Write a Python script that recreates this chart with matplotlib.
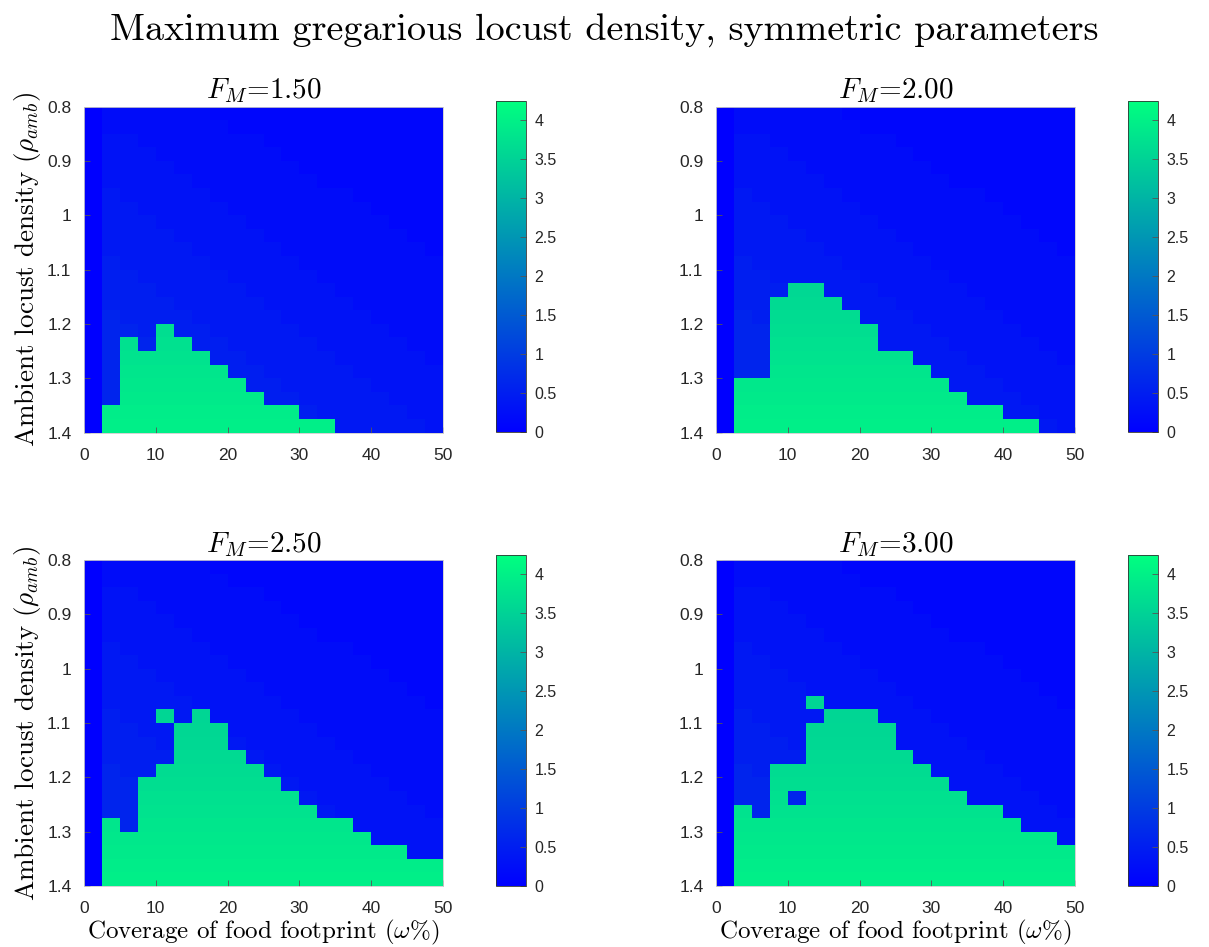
import numpy as np
import matplotlib
matplotlib.use("Agg")
import matplotlib.pyplot as plt

plt.rcParams['mathtext.fontset'] = 'cm'

# ---------------- data ----------------
coverage_ticks = [0, 10, 20, 30, 40, 50]
density_ticks = [0.8, 0.9, 1.0, 1.1, 1.2, 1.3, 1.4]
density_ticklabels = ['0.8', '0.9', '1', '1.1', '1.2', '1.3', '1.4']
cbar_ticks = [0, 0.5, 1, 1.5, 2, 2.5, 3, 3.5, 4]
cbar_ticklabels = ['0', '0.5', '1', '1.5', '2', '2.5', '3', '3.5', '4']

fm_labels = ['1.50', '2.00', '2.50', '3.00']

# number of "swarming" (green) cells counted from the bottom row, per coverage column
heights_150 = [0, 2, 7, 6, 8, 7, 6, 5, 4, 3, 2, 2, 1, 1, 0, 0, 0, 0, 0, 0]
heights_200 = [0, 4, 4, 10, 11, 11, 10, 9, 8, 6, 6, 5, 4, 3, 2, 2, 1, 1, 0, 0]
heights_250 = [0, 5, 4, 8, 9, 12, 13, 12, 10, 9, 8, 7, 6, 5, 5, 4, 3, 3, 2, 2]
heights_300 = [0, 6, 5, 9, 9, 12, 13, 13, 13, 12, 10, 9, 8, 7, 6, 6, 5, 4, 4, 3]

# isolated swarming cells (column, row-from-bottom) and non-swarming holes
islands_150 = []
islands_200 = []
islands_250 = [(4, 12)]
islands_300 = [(5, 13)]
holes_150 = []
holes_200 = []
holes_250 = []
holes_300 = [(4, 6)]

# green level by row (row 0 = bottom, rho = 1.4)
green_by_row = [3.97, 3.94, 3.9, 3.86, 3.82, 3.78, 3.74, 3.7, 3.66, 3.62,
                3.6, 3.58, 3.56, 3.56, 3.56, 3.56, 3.56, 3.56, 3.56, 3.56,
                3.56, 3.56, 3.56, 3.56]

# background (non-swarming) density in tenths, rows top (0.8) to bottom (1.4)
background_tenths = [
    "02222221111111111111",
    "02222222111111111111",
    "03322222221111111111",
    "03332222222111111111",
    "03333222222211111111",
    "03333322222221111111",
    "04333332222222211111",
    "04433333222222221111",
    "04443333322222222111",
    "04444333332222222211",
    "04444433333222222221",
    "05444443333322222222",
    "05544444333332222222",
    "05554444433333222222",
    "05555444443333322222",
    "06555544444333332222",
    "06655554444433333222",
    "06665555444443333322",
    "06666555544444333332",
    "06666655554444433333",
    "06666665555444443333",
    "06666666555544444333",
    "06666666655554444433",
    "06666666665555444443",
]

panels = [
    (fm_labels[0], heights_150, islands_150, holes_150),
    (fm_labels[1], heights_200, islands_200, holes_200),
    (fm_labels[2], heights_250, islands_250, holes_250),
    (fm_labels[3], heights_300, islands_300, holes_300),
]

n_rows = len(background_tenths)
n_cols = len(background_tenths[0])
x_edges = np.linspace(0, 50, n_cols + 1)
y_edges = np.linspace(0.8, 1.4, n_rows + 1)
bg = np.array([[int(ch) / 10.0 for ch in row] for row in background_tenths])


def build(heights, islands, holes):
    z = bg.copy()
    for c, h in enumerate(heights):
        for k in range(h):
            z[n_rows - 1 - k, c] = green_by_row[k]
    for c, k in islands:
        z[n_rows - 1 - k, c] = green_by_row[k]
    for c, k in holes:
        z[n_rows - 1 - k, c] = bg[n_rows - 1 - k, c] + 0.1
    return z


# ---------------- figure ----------------
W, H = 1209, 947
fig = plt.figure(figsize=(W / 100, H / 100), dpi=100)

ax_pos = [(84, 106.5), (716, 106.5), (84, 560), (716, 560)]
cb_pos = [(496, 101), (1128, 101), (496, 555), (1128, 555)]
ax_w, ax_h = 359, 326
cb_w, cb_h = 30, 331

tick_font = dict(family='Liberation Sans', size=12.5)
tick_color = '#262626'
vmax = 4.25

for i, (lab, heights, islands, holes) in enumerate(panels):
    x0, y0 = ax_pos[i]
    ax = fig.add_axes([x0 / W, 1 - (y0 + ax_h) / H, ax_w / W, ax_h / H])
    z = build(heights, islands, holes)
    mesh = ax.pcolormesh(x_edges, y_edges, z, cmap='winter', vmin=0, vmax=vmax,
                         shading='flat')
    ax.set_xlim(0, 50)
    ax.set_ylim(1.4, 0.8)
    ax.set_xticks(coverage_ticks)
    ax.set_xticklabels([str(t) for t in coverage_ticks], fontdict=tick_font, color=tick_color)
    ax.set_yticks(density_ticks)
    ax.set_yticklabels(density_ticklabels, fontdict=tick_font, color=tick_color)
    ax.tick_params(direction='in', length=4, width=0.6, color='#555555')
    ax.tick_params(axis='x', pad=11)
    ax.tick_params(axis='y', pad=9)
    for s in ax.spines.values():
        s.set_color('#cccccc')
        s.set_linewidth(0.6)
    ax.set_title(r'$F_M$=' + lab, fontfamily='cmr10', fontsize=21, pad=6)
    if i % 2 == 0:
        ax.set_ylabel(r'Ambient locust density ($\rho_{amb}$)', fontfamily='cmr10',
                      fontsize=19.5, labelpad=3)
    if i >= 2:
        ax.set_xlabel(r'Coverage of food footprint ($\omega$%)', fontfamily='cmr10',
                      fontsize=18, labelpad=1)

    cx, cy = cb_pos[i]
    cax = fig.add_axes([cx / W, 1 - (cy + cb_h) / H, cb_w / W, cb_h / H])
    cb = fig.colorbar(mesh, cax=cax, ticks=cbar_ticks)
    cb.ax.set_yticklabels(cbar_ticklabels, fontdict=dict(family='Liberation Sans', size=11.5),
                          color=tick_color)
    cb.ax.tick_params(direction='in', length=4, width=0.6, color='#555555', pad=6)
    cb.outline.set_edgecolor('#333333')
    cb.outline.set_linewidth(0.6)

fig.text(0.5, 1 - 31 / H, 'Maximum gregarious locust density, symmetric parameters',
         ha='center', va='center', fontfamily='cmr10', fontsize=27.5)

fig.savefig('out.png', dpi=100)
